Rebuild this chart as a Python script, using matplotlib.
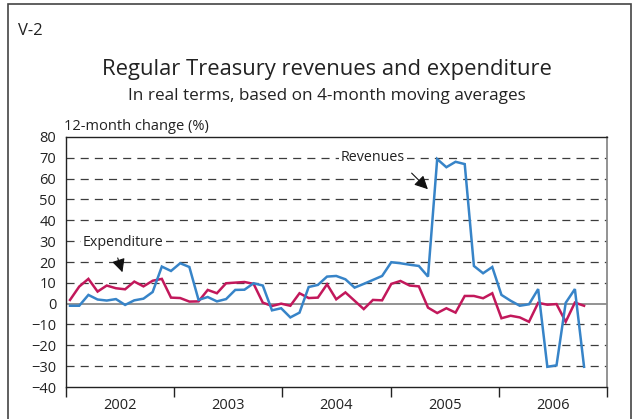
import numpy as np
import matplotlib.pyplot as plt
from matplotlib.patches import Rectangle

plt.rcParams.update({
    'font.family': ['Open Sans', 'DejaVu Sans'],
    'lines.scale_dashes': False,
})

# 12-month change (%), monthly from Jan 2002 to Sep 2006
revenues = [-1.0, -1.0, 4.2, 2.0, 1.5, 2.2, -0.6, 1.6, 2.4, 5.6,
            17.8, 15.7, 19.4, 17.6, 1.8, 3.2, 1.1, 2.2, 6.6, 6.7,
            9.8, 8.7, -3.2, -2.2, -6.6, -4.3, 8.0, 9.0, 13.0, 13.3,
            11.7, 7.7, 9.5, 11.4, 13.3, 19.9, 19.4, 18.7, 18.1, 13.0,
            69.4, 65.5, 68.1, 67.0, 18.1, 14.6, 17.6, 4.2, 1.4, -1.0,
            -0.3, 7.0, -30.3, -29.6, 0.4, 7.0, -30.3]
expenditure = [1.8, 8.2, 11.9, 5.8, 8.7, 7.4, 6.9, 10.6, 8.3, 11.0,
               11.9, 2.9, 2.7, 1.0, 1.1, 6.6, 5.0, 9.8, 10.1, 10.4,
               9.5, 0.5, -1.1, 0.0, -1.0, 5.0, 2.7, 2.9, 9.3, 2.1,
               5.4, 1.4, -2.6, 1.8, 1.6, 9.5, 10.9, 8.7, 8.3, -1.9,
               -4.5, -2.2, -4.3, 3.7, 3.7, 2.6, 5.0, -7.0, -5.8, -6.6,
               -8.7, 0.4, -0.5, -0.2, -8.7, 0.5, -1.0]
years = ['2002', '2003', '2004', '2005', '2006']
yticks = list(range(-40, 81, 10))

W, H = 638, 419
fig = plt.figure(figsize=(W / 100, H / 100), dpi=100)
ax = fig.add_axes([66 / W, 1 - 387 / H, 541 / W, 250 / H])

months = np.arange(len(revenues))
xmin, xmax = -0.44, 58.5

# grid: dashed lines, solid grey zero line
for v in yticks[1:-1]:
    if v == 0:
        ax.axhline(0, color='#8a8a8a', lw=1.3, zorder=1)
    else:
        ax.axhline(v, color='#3c3c3c', lw=0.9, ls=(0, (5.8, 4.4)), zorder=1)

ax.plot(months, expenditure, color='#c2185b', lw=1.8, zorder=3, solid_joinstyle='miter')
ax.plot(months, revenues, color='#3784c8', lw=1.8, zorder=4, solid_joinstyle='miter')

ax.set_xlim(xmin, xmax)
ax.set_ylim(-40, 80)
ax.set_yticks(yticks)
ax.tick_params(axis='y', length=0, labelsize=10.5, pad=7, labelcolor='#222222')

edges = np.linspace(xmin, xmax, len(years) + 1)
ax.set_xticks(edges)
ax.set_xticklabels([])
ax.set_xticks((edges[:-1] + edges[1:]) / 2, minor=True)
ax.set_xticklabels(years, minor=True, fontsize=10.5, color='#222222')
ax.tick_params(axis='x', which='major', length=7, width=1, direction='out', color='#222222')
ax.tick_params(axis='x', which='minor', length=0, pad=8)

for s in ['left', 'bottom', 'top']:
    ax.spines[s].set_color('#222222')
    ax.spines[s].set_linewidth(1.0)
ax.spines['right'].set_color('#8a8a8a')
ax.spines['right'].set_linewidth(1.3)

# labels with arrows
box = dict(facecolor='white', edgecolor='none', pad=1.5)
arrow = dict(arrowstyle='-|>,head_length=0.8,head_width=0.4', color='#111111', lw=0.8)
ax.text(5.8, 29.6, 'Expenditure', ha='center', va='center', fontsize=10.3,
        color='#222222', bbox=box, zorder=5)
ax.annotate('', xy=(5.8, 13.8), xytext=(5.1, 23.2), arrowprops=arrow, zorder=5)
ax.text(33.0, 70.0, 'Revenues', ha='center', va='center', fontsize=10.3,
        color='#222222', bbox=box, zorder=5)
ax.annotate('', xy=(39.2, 54.0), xytext=(37.0, 63.6), arrowprops=arrow, zorder=5)

fig.text(18 / W, 1 - 31 / H, 'V-2', ha='left', va='center', fontsize=12, color='#222222')
fig.text(327 / W, 1 - 69 / H, 'Regular Treasury revenues and expenditure',
         ha='center', va='center', fontsize=15.8, color='#222222')
fig.text(327 / W, 1 - 96 / H, 'In real terms, based on 4-month moving averages',
         ha='center', va='center', fontsize=12.3, color='#222222')
fig.text(64 / W, 1 - 126 / H, '12-month change (%)', ha='left', va='center',
         fontsize=10.5, color='#222222')

# outer frame
fig.patches.append(Rectangle((8 / W, -0.1), 623 / W, 1.1 - 4 / H, transform=fig.transFigure,
                             fill=False, edgecolor='#444444', lw=1.2))

fig.savefig('out.png', dpi=100)
